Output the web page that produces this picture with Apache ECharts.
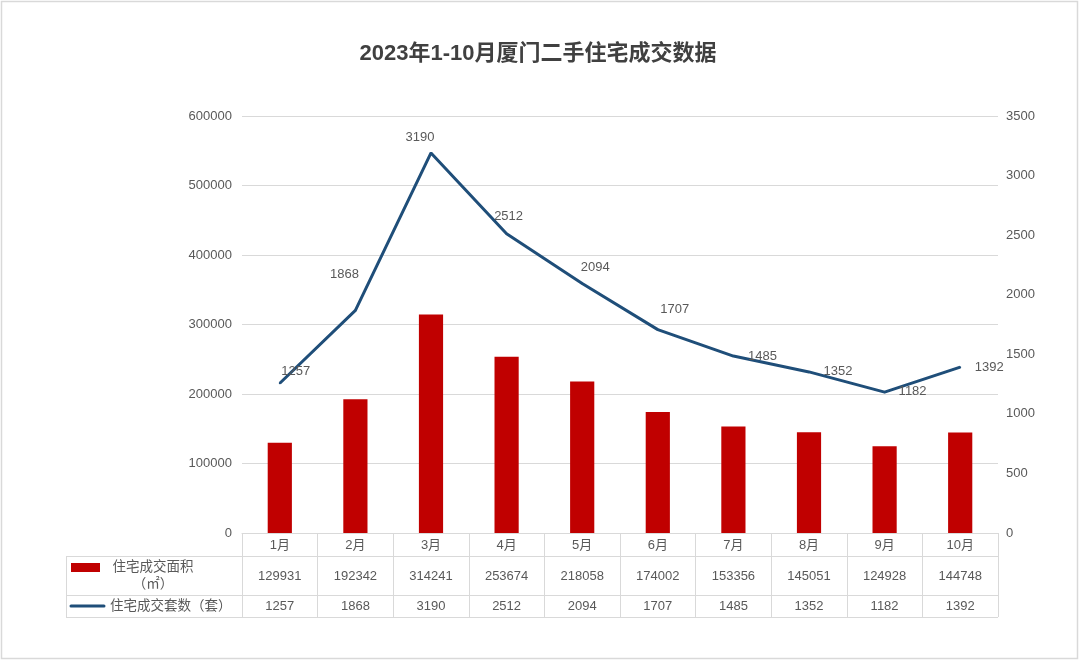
<!DOCTYPE html>
<html>
<head>
<meta charset="utf-8">
<script src="https://cdn.jsdelivr.net/npm/echarts@6/dist/echarts.min.js"></script>
<style>
html,body{margin:0;padding:0;background:#fff;}
#c{width:1080px;height:661px;}
</style>
</head>
<body>
<div id="c"></div>
<script>
// ---- data ----
var months = ['1月','2月','3月','4月','5月','6月','7月','8月','9月','10月'];
var areaValues = [129931, 192342, 314241, 253674, 218058, 174002, 153356, 145051, 124928, 144748];
var countValues = [1257, 1868, 3190, 2512, 2094, 1707, 1485, 1352, 1182, 1392];
var areaName = '住宅成交面积（㎡）';
var countName = '住宅成交套数（套）';
var titleText = '2023年1-10月厦门二手住宅成交数据';

// ---- styles ----
var labelOffsets = [[16,1],[-11,-24],[-11,-3],[2,-5],[13,-4],[17,-8],[29,13],[29,12],[28,12],[29,13]];
var FONT = '"Liberation Sans","Noto Sans CJK SC",sans-serif';
var TXT = '#595959';
var LINE = '#d9d9d9';
var G = {left: 242, right: 998, top: 116, bottom: 533};
var rowY = [533, 556, 595, 617];
var tableLeft = 66;

var chart = echarts.init(document.getElementById('c'));

var lineData = countValues.map(function (v, i) {
  return {value: v, label: {offset: labelOffsets[i]}};
});

function hl(y, x1, x2) {
  return {type: 'line', silent: true, shape: {x1: x1, y1: y + 0.5, x2: x2, y2: y + 0.5},
    style: {stroke: LINE, lineWidth: 1}};
}
function plain(v) { return String(v); }

var option = {
  backgroundColor: '#fff',
  animation: false,
  textStyle: {fontFamily: FONT},
  title: {
    text: titleText,
    left: 533, top: 38, textAlign: 'center',
    textStyle: {fontSize: 22, fontWeight: 'bold', color: '#404040', fontFamily: FONT}
  },
  grid: {left: G.left, top: G.top, width: G.right - G.left, height: G.bottom - G.top, containLabel: false},
  xAxis: [
    {
      type: 'category', data: months, position: 'bottom',
      axisLine: {show: true, lineStyle: {color: LINE, width: 1}},
      axisTick: {show: true, length: rowY[3] - rowY[0], interval: 0, lineStyle: {color: LINE}},
      axisLabel: {interval: 0, margin: 5, color: TXT, fontSize: 13, lineHeight: 14, fontFamily: FONT}
    },
    {
      type: 'category', data: months, position: 'bottom', offset: 0,
      axisLine: {show: false}, axisTick: {show: false},
      axisLabel: {interval: 0, margin: 36, color: TXT, fontSize: 13, lineHeight: 14, fontFamily: FONT,
        formatter: function (v, i) { return String(areaValues[i]); }}
    },
    {
      type: 'category', data: months, position: 'bottom', offset: 0,
      axisLine: {show: false}, axisTick: {show: false},
      axisLabel: {interval: 0, margin: 66, color: TXT, fontSize: 13, lineHeight: 14, fontFamily: FONT,
        formatter: function (v, i) { return String(countValues[i]); }}
    }
  ],
  yAxis: [
    {
      type: 'value', min: 0, max: 600000, interval: 100000, position: 'left',
      axisLine: {show: false}, axisTick: {show: false},
      splitLine: {show: true, lineStyle: {color: LINE, width: 1}},
      axisLabel: {color: TXT, fontSize: 13, margin: 10, fontFamily: FONT, formatter: plain}
    },
    {
      type: 'value', min: 0, max: 3500, interval: 500, position: 'right',
      axisLine: {show: false}, axisTick: {show: false},
      splitLine: {show: false},
      axisLabel: {color: TXT, fontSize: 13, margin: 8, fontFamily: FONT, formatter: plain}
    }
  ],
  series: [
    {
      name: areaName, type: 'bar', xAxisIndex: 0, yAxisIndex: 0,
      data: areaValues, barWidth: '32%',
      itemStyle: {color: '#c00000'}
    },
    {
      name: countName, type: 'line', xAxisIndex: 0, yAxisIndex: 1,
      data: lineData, symbol: 'circle', symbolSize: 2, smooth: false,
      lineStyle: {color: '#1f4e79', width: 3},
      itemStyle: {color: '#1f4e79'},
      label: {show: true, position: 'top', distance: 5, color: TXT, fontSize: 13, fontFamily: FONT}
    }
  ],
  graphic: [
    {type: 'rect', silent: true, shape: {x: 1.5, y: 1.5, width: 1076, height: 657},
      style: {fill: 'none', stroke: LINE, lineWidth: 1.5}},
    hl(rowY[1], tableLeft, G.right),
    hl(rowY[2], tableLeft, G.right),
    hl(rowY[3], tableLeft, G.right),
    {type: 'line', silent: true, shape: {x1: tableLeft + 0.5, y1: rowY[1], x2: tableLeft + 0.5, y2: rowY[3] + 1},
      style: {stroke: LINE, lineWidth: 1}},
    {type: 'rect', silent: true, shape: {x: 71, y: 563, width: 29, height: 9}, style: {fill: '#c00000'}},
    {type: 'text', silent: true, x: 153, y: 567,
      style: {text: '住宅成交面积', fill: TXT, font: '13.5px ' + FONT, align: 'center', verticalAlign: 'middle'}},
    {type: 'text', silent: true, x: 153, y: 584,
      style: {text: '（㎡）', fill: TXT, font: '13.5px ' + FONT, align: 'center', verticalAlign: 'middle'}},
    {type: 'line', silent: true, shape: {x1: 71, y1: 606, x2: 104, y2: 606},
      style: {stroke: '#1f4e79', lineWidth: 3, lineCap: 'round'}},
    {type: 'text', silent: true, x: 110, y: 606,
      style: {text: '住宅成交套数（套）', fill: TXT, font: '13.5px ' + FONT, align: 'left', verticalAlign: 'middle'}}
  ]
};
chart.setOption(option);
</script>
</body>
</html>
